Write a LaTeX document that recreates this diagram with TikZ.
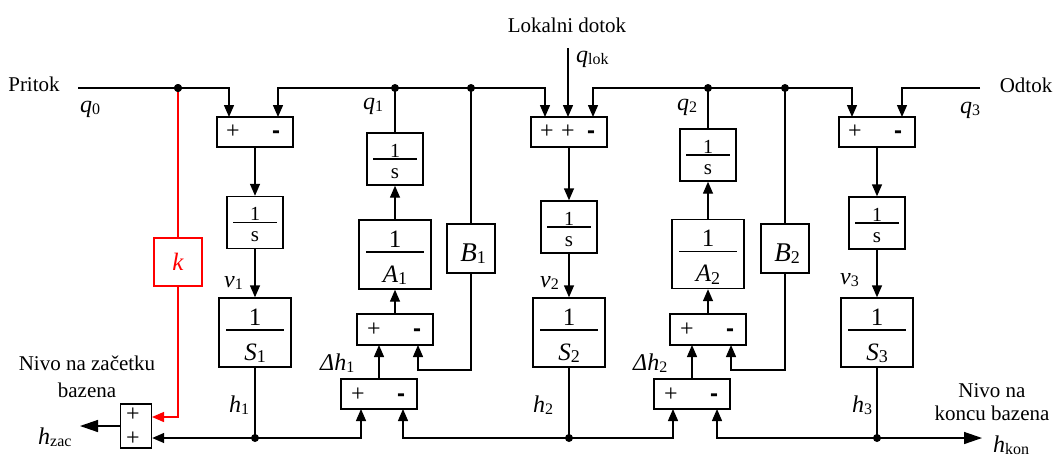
\documentclass[tikz,border=0pt]{standalone}
\usepackage{fontspec}
\setmainfont{Liberation Serif}
\newfontfamily\signfont{Liberation Sans}
\usetikzlibrary{arrows.meta}
\newcommand\fs[1]{\fontsize{#1}{#1}\selectfont}
\newcommand\lab[2]{{\fs{24}\itshape #1}\raisebox{-2.5pt}{\fs{16}#2}}
\newcommand\smfr[3]{%
  \node[blk, minimum width=56pt, minimum height=52pt] (#1) at (#2,#3) {};
  \draw[line width=1.2pt] ({#2-22},{#3}) -- ({#2+22},{#3});
  \node[anchor=base, inner sep=0pt, font=\fs{20}] (#1n) at (#2,{#3-2}) {1};
  \node[anchor=base, inner sep=0pt, font=\fs{21}] (#1d) at (#2,{#3+19}) {s};
}
\newcommand\bgfr[5]{%
  \node[blk, minimum width=72pt, minimum height=69pt] (#1) at (#2,#3) {};
  \draw[line width=1.4pt] ({#2-29},{#3-2.5}) -- ({#2+29},{#3-2.5});
  \node[anchor=base, inner sep=0pt, font=\fs{25}] (#1n) at (#2,{#3-7.5}) {1};
  \node[anchor=base, inner sep=0pt] (#1d) at (#2,{#3+27.5}) {{\fs{25}\itshape #4}\raisebox{-2.5pt}{\fs{18}#5}};
}
\tikzset{
  ln/.style={line width=1.4pt},
  blk/.style={draw, line width=1.4pt, inner sep=0pt},
  arr/.style={ln, -{Triangle[length=12pt,width=10pt]}},
  arrb/.style={ln, {Triangle[length=12pt,width=10pt]}-{Triangle[length=12pt,width=10pt]}},
  bigarr/.style={ln, -{Triangle[length=18pt,width=12pt]}},
  dot/.style={circle, fill=black, inner sep=0pt, minimum size=8pt},
  txt/.style={inner sep=0pt, font=\fs{21}},
  lb/.style={inner sep=0pt, anchor=base west},
  pl/.style={inner sep=0pt, font=\fs{24}},
  mn/.style={inner sep=0pt, font=\signfont\bfseries\fs{24}, anchor=base},
  sumb/.style={blk, minimum width=76pt, minimum height=30pt},
}
\begin{document}
\begin{tikzpicture}[x=1pt,y=-1pt]
\useasboundingbox (0,0) rectangle (1054,459);

% ---------- summation boxes ----------
\node[sumb] (sum1) at (255,132) {};
\node[pl] (sum1p) at (233,132) {+};
\node[mn] (sum1m) at (276,138) {-};
\node[sumb] (sum2) at (569,132) {};
\node[pl] (sum2p1) at (547,132) {+};
\node[pl] (sum2p2) at (568,132) {+};
\node[mn] (sum2m) at (591,138) {-};
\node[sumb] (sum3) at (877,132) {};
\node[pl] (sum3p) at (855,132) {+};
\node[mn] (sum3m) at (898,138) {-};

\node[sumb, minimum height=31pt] (sumA1) at (395,329.5) {};
\node[pl] (sumA1p) at (374,330) {+};
\node[mn] (sumA1m) at (417,336) {-};
\node[sumb] (sumB1) at (379,394) {};
\node[pl] (sumB1p) at (358,395) {+};
\node[mn] (sumB1m) at (401,401) {-};
\node[sumb, minimum height=31pt] (sumA2) at (708,329.5) {};
\node[pl] (sumA2p) at (687,330) {+};
\node[mn] (sumA2m) at (730,336) {-};
\node[sumb] (sumB2) at (692,394) {};
\node[pl] (sumB2p) at (671,395) {+};
\node[mn] (sumB2m) at (714,401) {-};

% ---------- transfer blocks ----------
\smfr{s1}{255}{222.5}
\smfr{s2}{569}{227}
\smfr{s3}{877}{223}
\smfr{q1b}{395}{159}
\smfr{q2b}{708}{155}
\bgfr{S1}{255}{332.5}{S}{1}
\bgfr{S2}{569}{332.5}{S}{2}
\bgfr{S3}{877}{332.5}{S}{3}
\bgfr{A1}{395}{254.5}{A}{1}
\bgfr{A2}{708}{254}{A}{2}
\node[blk, minimum width=48pt, minimum height=49pt] (B1) at (471,248.5) {};
\node[anchor=base, inner sep=0pt] (B1t) at (473,261) {{\fs{27}\itshape B}\raisebox{-2.5pt}{\fs{18}1}};
\node[blk, minimum width=48pt, minimum height=49pt] (B2) at (785,248.5) {};
\node[anchor=base, inner sep=0pt] (B2t) at (787,261) {{\fs{27}\itshape B}\raisebox{-2.5pt}{\fs{18}2}};
\node[blk, draw=red, minimum width=48pt, minimum height=48pt, text=red, font=\fs{25}\itshape] (k) at (178,262) {k};
\node[blk, minimum width=31pt, minimum height=44pt] (zac) at (136,426) {};
\node[pl] (zacp1) at (133,415) {+};
\node[pl] (zacp2) at (133,439) {+};

% ---------- dots and ports ----------
\coordinate (pin) at (78,88);
\coordinate (odt) at (980,88);
\coordinate (qlok) at (568,48);
\coordinate (sum1i1) at (229,117);
\coordinate (sum1i2) at (278,117);
\coordinate (sum2i1) at (545,117);
\coordinate (sum2i2) at (568,117);
\coordinate (sum2i3) at (593,117);
\coordinate (sum3i1) at (852,117);
\coordinate (sum3i2) at (902,117);
\coordinate (sumA1i1) at (379,345);
\coordinate (sumA1i2) at (418,345);
\coordinate (sumB1o) at (379,379);
\coordinate (sumB1i1) at (361,409);
\coordinate (sumB1i2) at (403,409);
\coordinate (sumA2i1) at (692,345);
\coordinate (sumA2i2) at (731,345);
\coordinate (sumB2o) at (692,379);
\coordinate (sumB2i1) at (673,409);
\coordinate (sumB2i2) at (717,409);
\coordinate (b1turn) at (471,370);
\coordinate (b2turn) at (785,370);
\coordinate (zacred) at (152,417);
\coordinate (hzacend) at (80,426);
\coordinate (hkonend) at (982,438);
\node[dot] (d0) at (178,88) {};
\node[dot] (dq1) at (395,88) {};
\node[dot] (dB1) at (471,88) {};
\node[dot] (dq2) at (708,88) {};
\node[dot] (dB2) at (785,88) {};
\node[dot] (dh1) at (255,438) {};
\node[dot] (dh2) at (569,438) {};
\node[dot] (dh3) at (877,438) {};

% ---------- connectors: top ----------
\draw[arr] (pin) -| (sum1i1);
\draw[arrb] (sum1i2) |- (dq1.center) -| (sum2i1);
\draw[arr] (qlok) -- (sum2i2);
\draw[arrb] (sum2i3) |- (dq2.center) -| (sum3i1);
\draw[arr] (odt) -| (sum3i2);
\draw[ln] (q1b) -- (dq1.center);
\draw[ln] (B1) -- (dB1.center);
\draw[ln] (q2b) -- (dq2.center);
\draw[ln] (B2) -- (dB2.center);

% ---------- columns ----------
\draw[arr] (sum1) -- (s1);
\draw[arr] (s1) -- (S1);
\draw[ln] (S1) -- (dh1.center);
\draw[arr] (sum2) -- (s2);
\draw[arr] (s2) -- (S2);
\draw[ln] (S2) -- (dh2.center);
\draw[arr] (sum3) -- (s3);
\draw[arr] (s3) -- (S3);
\draw[ln] (S3) -- (dh3.center);

\draw[arr] (A1) -- (q1b);
\draw[arr] (sumA1) -- (A1);
\draw[arr] (sumB1o) -- (sumA1i1);
\draw[arr] (B1) -- (b1turn) -| (sumA1i2);
\draw[arr] (A2) -- (q2b);
\draw[arr] (sumA2) -- (A2);
\draw[arr] (sumB2o) -- (sumA2i1);
\draw[arr] (B2) -- (b2turn) -| (sumA2i2);

% ---------- bottom bus ----------
\draw[arr] (dh1.center) -- (dh1 -| zac.east);
\draw[arr] (dh1.center) -| (sumB1i1);
\draw[arr] (dh2.center) -| (sumB1i2);
\draw[arr] (dh2.center) -| (sumB2i1);
\draw[arr] (dh3.center) -| (sumB2i2);
\draw[bigarr] (dh3.center) -- (hkonend);
\draw[bigarr] (zac) -- (hzacend);

% ---------- red path ----------
\draw[ln, red] (d0) -- (k);
\draw[arr, red] (k) |- (zacred);
\node[dot] (d0b) at (178,88) {};

% ---------- texts ----------
\node[txt, anchor=base] (pritok) at (34,91) {Pritok};
\node[txt, anchor=base] (odtok) at (1026,92) {Odtok};
\node[txt, anchor=base] (lokal) at (567,32) {Lokalni dotok};
\node[lb] (lq0) at (80,112) {\lab{q}{0}};
\node[lb] (lqlok) at (576,62) {\lab{q}{lok}};
\node[lb] (lq1) at (363,109) {\lab{q}{1}};
\node[lb] (lq2) at (677,110) {\lab{q}{2}};
\node[lb] (lq3) at (960,113) {\lab{q}{3}};
\node[lb] (lv1) at (224,287) {\lab{v}{1}};
\node[lb] (lv2) at (540,287) {\lab{v}{2}};
\node[lb] (lv3) at (840,284) {\lab{v}{3}};
\node[lb] (lh1) at (229,412) {\lab{h}{1}};
\node[lb] (lh2) at (533,412) {\lab{h}{2}};
\node[lb] (lh3) at (852,412) {\lab{h}{3}};
\node[lb] (ldh1) at (320,370) {\lab{Δh}{1}};
\node[lb] (ldh2) at (633,370) {\lab{Δh}{2}};
\node[lb] (lhzac) at (38,444) {\lab{h}{zac}};
\node[lb] (lhkon) at (993,452) {\lab{h}{kon}};
\node[txt, anchor=base] (niv1) at (87,370) {Nivo na začetku};
\node[txt, anchor=base] (niv2) at (87,397) {bazena};
\node[txt, anchor=base] (niv3) at (992,397) {Nivo na};
\node[txt, anchor=base] (niv4) at (992,420) {koncu bazena};
\end{tikzpicture}
\end{document}
